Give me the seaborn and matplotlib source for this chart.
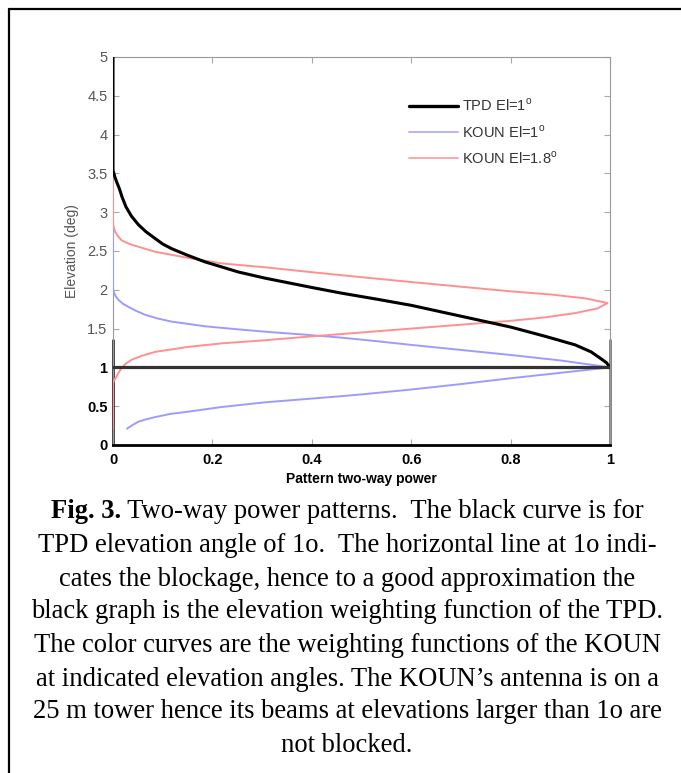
import numpy as np
import pandas as pd
import matplotlib
matplotlib.use("Agg")
import matplotlib.pyplot as plt
from matplotlib.lines import Line2D
import seaborn as sns

# ---- data: two-way power (x) versus elevation angle in degrees (y) ----
tpd_elev = [1.0, 1.06, 1.12, 1.2, 1.29, 1.4, 1.52, 1.66, 1.80, 1.88, 1.96, 2.03,
            2.15, 2.23, 2.36, 2.45, 2.53, 2.59, 2.66, 2.75, 2.84, 2.95, 3.07,
            3.20, 3.30, 3.38, 3.45, 3.54, 5.0]
tpd_power = [1.0, 0.993, 0.98, 0.962, 0.93, 0.87, 0.8, 0.7, 0.6, 0.53, 0.457, 0.40,
             0.306, 0.252, 0.185, 0.148, 0.118, 0.10, 0.085, 0.066, 0.051, 0.037,
             0.026, 0.018, 0.013, 0.008, 0.004, 0.0, 0.0]

koun1_elev = [0.21, 0.26, 0.30, 0.33, 0.36, 0.40, 0.43, 0.49, 0.55, 0.588, 0.628,
              0.652, 0.715, 0.785, 0.86, 0.93, 1.0, 1.09, 1.16, 1.225, 1.29, 1.345,
              1.385, 1.425, 1.46, 1.49, 1.53, 1.59, 1.63, 1.68, 1.73, 1.78, 1.82,
              1.87, 1.91, 1.95, 1.98, 2.02, 2.87]
koun1_power = [0.028, 0.04, 0.051, 0.066, 0.085, 0.115, 0.152, 0.219, 0.306, 0.38,
               0.457, 0.5, 0.6, 0.7, 0.8, 0.9, 1.0, 0.9, 0.8, 0.7, 0.6, 0.52,
               0.457, 0.38, 0.306, 0.252, 0.185, 0.118, 0.09, 0.064, 0.046, 0.031,
               0.02, 0.011, 0.006, 0.003, 0.001, 0.0, 0.0]

koun18_elev = [0.2, 0.80, 0.84, 0.88, 0.94, 0.99, 1.05, 1.10, 1.15, 1.20, 1.265,
               1.31, 1.35, 1.40, 1.45, 1.50, 1.55, 1.60, 1.645, 1.70, 1.76, 1.83,
               1.89, 1.94, 1.98, 2.04, 2.10, 2.15, 2.19, 2.24, 2.29, 2.34, 2.41,
               2.49, 2.58, 2.61, 2.64, 2.69, 2.75, 2.82, 2.88, 5.0]
koun18_power = [0.0, 0.0, 0.003, 0.007, 0.012, 0.017, 0.026, 0.038, 0.058, 0.085,
                0.152, 0.219, 0.306, 0.4, 0.5, 0.6, 0.7, 0.8, 0.87, 0.93, 0.975,
                0.995, 0.95, 0.88, 0.8, 0.7, 0.6, 0.52, 0.457, 0.38, 0.306, 0.219,
                0.152, 0.085, 0.038, 0.026, 0.017, 0.01, 0.004, 0.001, 0.0, 0.0]

blockage_elev = 1.0

series_labels = [r"TPD El=1$^{\mathrm{o}}$", r"KOUN El=1$^{\mathrm{o}}$",
                 r"KOUN El=1.8$^{\mathrm{o}}$"]
x_ticks = [0, 0.2, 0.4, 0.6, 0.8, 1]
y_ticks = [0, 0.5, 1, 1.5, 2, 2.5, 3, 3.5, 4, 4.5, 5]

caption_lines = [
    "Two-way power patterns.  The black curve is for",
    "TPD elevation angle of 1o.  The horizontal line at 1o indi-",
    "cates the blockage, hence to a good approximation the",
    "black graph is the elevation weighting function of the TPD.",
    "The color curves are the weighting functions of the KOUN",
    "at indicated elevation angles. The KOUN\u2019s antenna is on a",
    "25 m tower hence its beams at elevations larger than 1o are",
    "not blocked.",
]

# ---- figure ----
sns.set_theme(style="white")
plt.rcParams["font.family"] = ["Liberation Sans", "DejaVu Sans"]
plt.rcParams["mathtext.fontset"] = "custom"
plt.rcParams["mathtext.rm"] = "Liberation Sans"
plt.rcParams["text.color"] = "black"

W, H = 681, 773
fig = plt.figure(figsize=(W / 100, H / 100), dpi=100)
fig.patch.set_facecolor("white")
ax = fig.add_axes([113 / W, 1 - 445 / H, 497 / W, 388 / H])
ax.set_facecolor("white")

df_tpd = pd.DataFrame({"power": tpd_power, "elev": tpd_elev})
df_k1 = pd.DataFrame({"power": koun1_power, "elev": koun1_elev})
df_k18 = pd.DataFrame({"power": koun18_power, "elev": koun18_elev})

line_kw = dict(sort=False, estimator=None, solid_joinstyle="round",
               solid_capstyle="round")
sns.lineplot(data=df_k1, x="power", y="elev", color="#9c9cff", lw=1.4,
             ax=ax, zorder=3, **line_kw)
sns.lineplot(data=df_k18, x="power", y="elev", color="#ff9090", lw=1.4,
             ax=ax, zorder=3, **line_kw)
sns.lineplot(data=df_tpd, x="power", y="elev", color="black", lw=2.2,
             ax=ax, zorder=4, **line_kw)
ax.axhline(blockage_elev, color="#333333", lw=2.3, zorder=5)

ax.set_xlim(0, 1)
ax.set_ylim(0, 5)
ax.set_xticks(x_ticks)
ax.set_yticks(y_ticks)
ax.set_xticklabels([f"{t:g}" for t in x_ticks])
ax.set_yticklabels([f"{t:g}" for t in y_ticks])

ax.tick_params(axis="both", direction="in", length=4, width=0.8, color="#aaaaaa",
               top=True, right=True, bottom=True, left=True)
ax.tick_params(axis="x", pad=6)
ax.tick_params(axis="y", pad=4)
for lab in ax.get_xticklabels():
    lab.set_fontweight("bold")
    lab.set_fontsize(10.5)
    lab.set_color("black")
for lab, t in zip(ax.get_yticklabels(), y_ticks):
    if t <= 1:
        lab.set_fontweight("bold")
        lab.set_fontsize(10.5)
        lab.set_color("black")
    else:
        lab.set_fontsize(10.5)
        lab.set_color("#555555")

ax.set_xlabel("Pattern two-way power", fontsize=10, fontweight="bold",
              color="black", labelpad=3)
ax.set_ylabel("Elevation (deg)", fontsize=10, color="#555555", labelpad=6)

# frame: dotted light box with solid lower sections
for side in ["top", "right", "left"]:
    ax.spines[side].set_linestyle((0, (1, 1)))
    ax.spines[side].set_color("#999999")
    ax.spines[side].set_linewidth(0.8)
ax.spines["bottom"].set_color("black")
ax.spines["bottom"].set_linewidth(2)
ax.axvline(0, ymin=0, ymax=1.35 / 5, color="#333333", lw=2, clip_on=False, zorder=2)
ax.axvline(1, ymin=0, ymax=1.35 / 5, color="#777777", lw=2, clip_on=False, zorder=2)

handles = [Line2D([], [], color="black", lw=2.4),
           Line2D([], [], color="#b4b4ff", lw=1.4),
           Line2D([], [], color="#ffa8a8", lw=1.4)]
leg = ax.legend(handles, series_labels, loc="upper left",
                bbox_to_anchor=(0.57, 0.93), frameon=False, fontsize=10.5,
                handlelength=3.3, handletextpad=0.3, labelspacing=0.65)
for t in leg.get_texts():
    t.set_color("#333333")

# caption under the chart
serif = ["Liberation Serif", "DejaVu Serif"]
line_y = [512, 545, 579, 612, 645, 679, 712, 745]
cap_x = 347
cap_size = 19.2
fig.canvas.draw()
renderer = fig.canvas.get_renderer()
t_bold = fig.text(0, 0, "Fig. 3.", fontsize=cap_size, fontweight="bold",
                  family=serif, va="center", ha="left", color="black")
t_rest = fig.text(0, 0, " " + caption_lines[0], fontsize=cap_size,
                  family=serif, va="center", ha="left", color="black")
wb = t_bold.get_window_extent(renderer).width
wr = t_rest.get_window_extent(renderer).width
x0 = (cap_x - (wb + wr) / 2) / W
y0 = 1 - line_y[0] / H
t_bold.set_position((x0, y0))
t_rest.set_position((x0 + wb / W, y0))
for txt, py in zip(caption_lines[1:], line_y[1:]):
    fig.text(cap_x / W, 1 - py / H, txt, fontsize=cap_size, family=serif,
             ha="center", va="center", color="black")

# outer border
fig.add_artist(Line2D([9 / W, 9 / W], [0, 1 - 9 / H], color="black", lw=1.6,
                      transform=fig.transFigure))
fig.add_artist(Line2D([9 / W, 1], [1 - 9 / H, 1 - 9 / H], color="black", lw=1.6,
                      transform=fig.transFigure))

fig.savefig("out.png", dpi=100)
